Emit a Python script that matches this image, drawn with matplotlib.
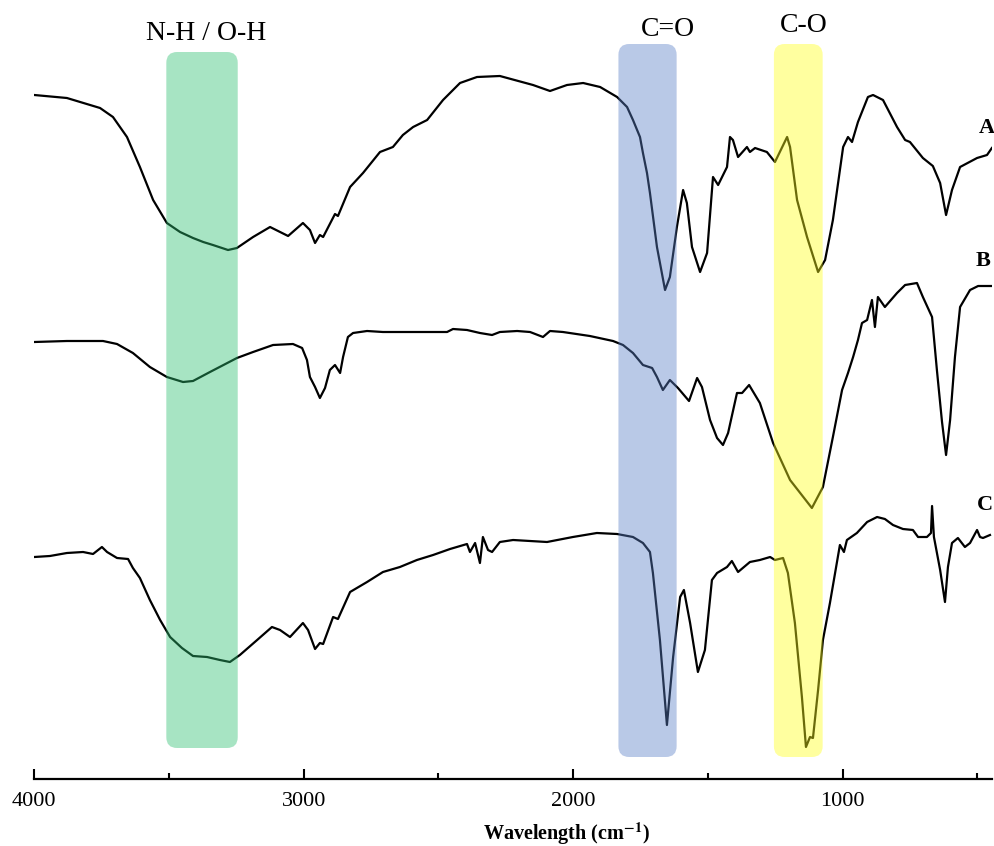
import matplotlib
matplotlib.use("Agg")
import matplotlib.pyplot as plt
from matplotlib.patches import FancyBboxPatch

plt.rcParams['font.family'] = ['Liberation Serif', 'DejaVu Serif']
plt.rcParams['mathtext.fontset'] = 'stix'

# FTIR spectra (wavenumber in cm-1, stacked transmittance in a.u.)
wn_A = [4000, 3879, 3756, 3708, 3656, 3608, 3559, 3508, 3459, 3411, 3373, 3337, 3281, 3248, 3188, 3125,
        3058, 3003, 2977, 2958, 2940, 2928, 2884, 2873, 2828, 2780, 2717, 2669, 2632, 2594, 2542, 2483,
        2420, 2357, 2272, 2149, 2086, 2023, 1963, 1900, 1837, 1800, 1778, 1752, 1741, 1726, 1715, 1689,
        1659, 1641, 1615, 1592, 1578, 1559, 1529, 1503, 1481, 1462, 1429, 1418, 1407, 1388, 1355, 1344,
        1325, 1281, 1251, 1206, 1195, 1169, 1132, 1091, 1065, 1036, 998, 980, 965, 943, 906, 887, 850,
        798, 768, 750, 702, 665, 638, 616, 594, 564, 501, 464, 446]
T_A = [684, 681, 671, 662, 642, 612, 579, 556, 547, 541, 537, 534, 529, 531, 542, 552,
       543, 556, 549, 536, 544, 542, 565, 563, 592, 606, 627, 632, 644, 652, 659, 679,
       696, 702, 703, 694, 688, 694, 696, 692, 682, 672, 659, 642, 626, 606, 586, 532,
       489, 502, 552, 589, 576, 532, 507, 526, 602, 594, 612, 642, 639, 622, 632, 627,
       631, 627, 617, 642, 632, 579, 542, 507, 519, 559, 632, 642, 637, 657, 682, 684, 679,
       652, 639, 637, 621, 613, 596, 564, 589, 612, 621, 624, 631]

wn_B = [4000, 3879, 3745, 3693, 3634, 3571, 3508, 3448, 3411, 3348, 3248, 3188, 3114, 3040, 3006, 2988,
        2977, 2958, 2940, 2921, 2903, 2884, 2865, 2854, 2836, 2817, 2765, 2706, 2580, 2468, 2446, 2394,
        2346, 2301, 2272, 2208, 2160, 2112, 2086, 2038, 1938, 1852, 1815, 1778, 1741, 1707, 1689, 1667,
        1641, 1611, 1570, 1540, 1522, 1492, 1466, 1444, 1425, 1392, 1373, 1347, 1307, 1258, 1195, 1114,
        1073, 1036, 1002, 980, 961, 943, 928, 909, 891, 880, 869, 843, 798, 768, 724, 702, 668, 650,
        631, 616, 601, 583, 564, 527, 497, 446]
T_B = [437, 438, 438, 435, 426, 412, 402, 397, 398, 407, 421, 427, 434, 435, 431, 419,
       402, 392, 381, 391, 409, 414, 406, 422, 442, 446, 448, 447, 447, 447, 450, 449,
       446, 444, 447, 448, 447, 442, 448, 447, 443, 438, 434, 426, 414, 411, 402, 389,
       399, 391, 378, 401, 392, 359, 341, 334, 346, 386, 386, 394, 376, 336, 299, 271,
       292, 342, 389, 406, 422, 439, 456, 459, 479, 452, 482, 472, 486, 494, 496, 482, 462, 409,
       357, 324, 359, 422, 472, 489, 493, 493]

wn_C = [4000, 3942, 3879, 3819, 3782, 3749, 3730, 3693, 3652, 3634, 3608, 3571, 3533, 3496, 3452, 3411,
        3359, 3311, 3274, 3237, 3173, 3118, 3088, 3051, 3003, 2984, 2958, 2940, 2928, 2891, 2873, 2828,
        2765, 2706, 2643, 2580, 2520, 2457, 2394, 2383, 2364, 2346, 2335, 2316, 2301, 2272, 2223, 2097,
        2001, 1912, 1837, 1778, 1741, 1715, 1704, 1678, 1652, 1629, 1603, 1589, 1566, 1537, 1511, 1485,
        1466, 1429, 1411, 1388, 1344, 1307, 1269, 1251, 1221, 1203, 1177, 1151, 1136, 1121, 1110, 1091,
        1073, 1047, 1010, 995, 984, 947, 909, 872, 843, 813, 776, 739, 720, 687, 672, 668,
        661, 638, 620, 609, 594, 572, 546, 527, 501, 490, 479, 453]
T_C = [222, 223, 226, 227, 225, 232, 227, 221, 220, 211, 201, 179, 159, 142, 131, 123,
       122, 119, 117, 124, 139, 152, 149, 142, 156, 149, 130, 136, 135, 162, 160, 187,
       197, 207, 212, 219, 224, 230, 235, 227, 236, 216, 242, 229, 227, 237, 239, 237,
       242, 246, 245, 242, 236, 227, 206, 139, 54, 122, 182, 189, 156, 107, 129, 199,
       206, 212, 218, 207, 217, 219, 222, 219, 221, 206, 156, 82, 32, 42, 41, 89,
       139, 176, 234, 227, 239, 246, 257, 262, 260, 254, 250, 249, 242, 242, 246, 273,
       242, 209, 177, 212, 236, 241, 232, 236, 249, 242, 241, 244]

sample_labels = ['A', 'B', 'C']

# Highlighted absorption bands: (label, high wn, low wn, colour)
band_names = ['N-H / O-H', 'C=O', 'C-O']
band_ranges = [(3510, 3245), (1832, 1616), (1255, 1074)]
band_colors = ['#2fbf72', '#5a7fc6', '#ffff1a']

W, H = 995, 846
fig = plt.figure(figsize=(W / 100, H / 100), dpi=100)
ax_left, ax_right, ax_bottom = 34.3, 992, 779
ax = fig.add_axes([ax_left / W, (H - ax_bottom) / H, (ax_right - ax_left) / W, ax_bottom / H])
ax.set_xlim(4000, 4000 - (ax_right - ax_left) * 3.7115)
ax.set_ylim(0, ax_bottom)

for wn, T in [(wn_A, T_A), (wn_B, T_B), (wn_C, T_C)]:
    ax.plot(wn, T, color='black', lw=1.6, solid_joinstyle='round', zorder=2)

# band overlays
band_tops = [727, 735, 735]
band_bottoms = [31, 22, 22]
for (hi, lo), col, top, bot in zip(band_ranges, band_colors, band_tops, band_bottoms):
    box = FancyBboxPatch((lo, bot), hi - lo, top - bot,
                         boxstyle='round,pad=0,rounding_size=40', mutation_aspect=0.27,
                         facecolor=col, edgecolor='none', alpha=0.42, zorder=3)
    ax.add_patch(box)

label_pos = [(3363, 746), (1648, 750), (1143, 754)]
for name, (x, y) in zip(band_names, label_pos):
    ax.text(x, y, name, fontsize=20, ha='center', va='center', zorder=4)

sample_pos = [(464, 651), (479, 518), (472, 274)]
for lab, (x, y) in zip(sample_labels, sample_pos):
    ax.text(x, y, lab, fontsize=16, fontweight='bold', ha='center', va='center', zorder=4)

for s in ['top', 'right', 'left']:
    ax.spines[s].set_visible(False)
ax.spines['bottom'].set_linewidth(1.6)
ax.set_yticks([])
ax.set_xticks([4000, 3000, 2000, 1000])
ax.set_xticks([3500, 2500, 1500, 500], minor=True)
ax.tick_params(axis='x', which='major', direction='in', length=7, width=1.5, labelsize=16, pad=9)
ax.tick_params(axis='x', which='minor', direction='in', length=4.5, width=1.5)
ax.set_xlabel(r'Wavelength (cm$^{\mathbf{-1}}$)', fontsize=14.5, fontweight='bold')
ax.xaxis.set_label_coords((566 - ax_left) / (ax_right - ax_left), -42 / ax_bottom)

fig.savefig('out.png', dpi=100)
